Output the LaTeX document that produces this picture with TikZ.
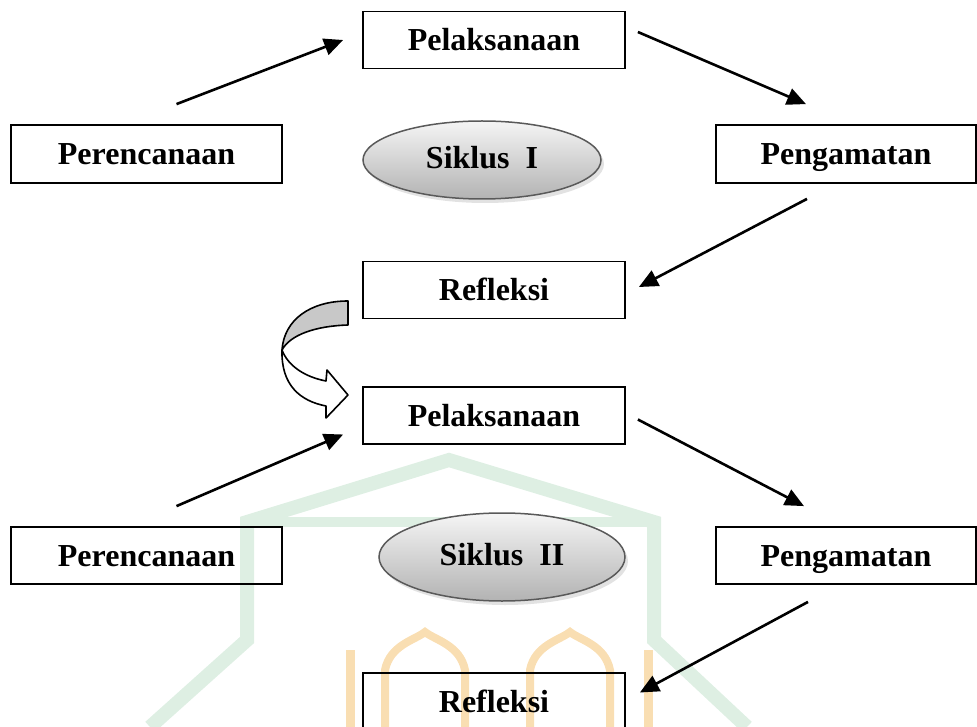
\documentclass[tikz,border=0pt]{standalone}
\usepackage{fontspec}
\setmainfont{Liberation Serif}
\usetikzlibrary{arrows.meta,shadows,shapes.geometric}

\definecolor{hijau}{RGB}{222,239,227}
\definecolor{jingga}{RGB}{249,222,178}
\definecolor{abupita}{RGB}{200,200,200}

\tikzset{
    kotak/.style={draw, line width=1.8pt, minimum width=262pt, minimum height=57pt,
        font=\fontsize{32}{38}\selectfont\bfseries, inner sep=0pt,
        text height=26pt, text depth=4pt},
    siklus/.style={ellipse, draw=gray!70!black, line width=1.5pt, top color=gray!8,
        bottom color=gray!60, font=\fontsize{32}{38}\selectfont\bfseries,
        text height=22pt, text depth=5pt,
        drop shadow={shadow xshift=3pt, shadow yshift=-4pt, fill=gray!45}},
    panah/.style={line width=2.6pt, -{Triangle[length=19pt,width=17pt]}}
}

\begin{document}
\begin{tikzpicture}[x=1pt, y=-1pt]
    \useasboundingbox (0,0) rectangle (977,727);

    % 水印
    \draw[hijau, line width=14pt, line join=miter]
        (150,727) -- (247,640) -- (247,522) -- (449,460) -- (654,522) -- (654,640) -- (747,727);
    \draw[hijau, line width=10pt] (247,522) -- (654,522);
    \draw[jingga, line width=9pt] (350,727) -- (350,650);
    \draw[jingga, line width=9pt] (648,727) -- (648,650);
    \draw[jingga, line width=8pt] (385,727) -- (385,670) .. controls (390,645) and (415,640) .. (425,632)
        .. controls (435,640) and (460,645) .. (465,670) -- (465,727);
    \draw[jingga, line width=8pt] (530,727) -- (530,670) .. controls (535,645) and (560,640) .. (570,632)
        .. controls (580,640) and (605,645) .. (610,670) -- (610,727);

    % 第一循环
    \node[kotak] (pel1) at (494,40) {Pelaksanaan};
    \node[kotak, minimum width=271pt, minimum height=58pt] (per1) at (146.5,154) {Perencanaan};
    \node[siklus, minimum width=238pt, minimum height=78pt] (sik1) at (482,160) {Siklus~~I};
    \node[kotak, minimum width=260pt, minimum height=58pt] (peng1) at (846,154) {Pengamatan};
    \node[kotak] (ref1) at (494,290) {Refleksi};

    \draw[panah] ([xshift=30pt,yshift=20pt]per1.north) -- ([xshift=-19pt]pel1.west);
    \draw[panah] ([xshift=12pt,yshift=8pt]pel1.east) -- ([xshift=-40pt,yshift=20pt]peng1.north);
    \draw[panah] ([xshift=-39pt,yshift=-15pt]peng1.south) -- ([xshift=13pt,yshift=3pt]ref1.east);

    % 弯箭头
    \draw[line width=1.6pt, fill=abupita, line join=round]
        (348,301) .. controls (310,301) and (284,320) .. (282,350)
        .. controls (290,335) and (315,326) .. (348,325) -- cycle;
    \draw[line width=1.6pt, fill=white, line join=round]
        (282,350) .. controls (288,366) and (305,377) .. (326,381)
        -- (327,370) -- (348,395) -- (326,418) -- (326,406)
        .. controls (300,401) and (281,385) .. (282,350) -- cycle;

    % 第二循环
    \node[kotak] (pel2) at (494,415.5) {Pelaksanaan};
    \node[kotak, minimum width=271pt] (per2) at (146.5,555.5) {Perencanaan};
    \node[siklus, minimum width=246pt, minimum height=88pt] (sik2) at (502,557) {Siklus~~II};
    \node[kotak, minimum width=260pt] (peng2) at (846,555.5) {Pengamatan};
    \node[kotak] (ref2) at (494,701.5) {Refleksi};

    \draw[panah] ([xshift=30pt,yshift=20pt]per2.north) -- ([xshift=-19pt,yshift=-19pt]pel2.west);
    \draw[panah] ([xshift=12pt,yshift=-4pt]pel2.east) -- ([xshift=-42pt,yshift=20pt]peng2.north);
    \draw[panah] ([xshift=-38pt,yshift=-17pt]peng2.south) -- ([xshift=14pt,yshift=9pt]ref2.east);
\end{tikzpicture}
\end{document}
